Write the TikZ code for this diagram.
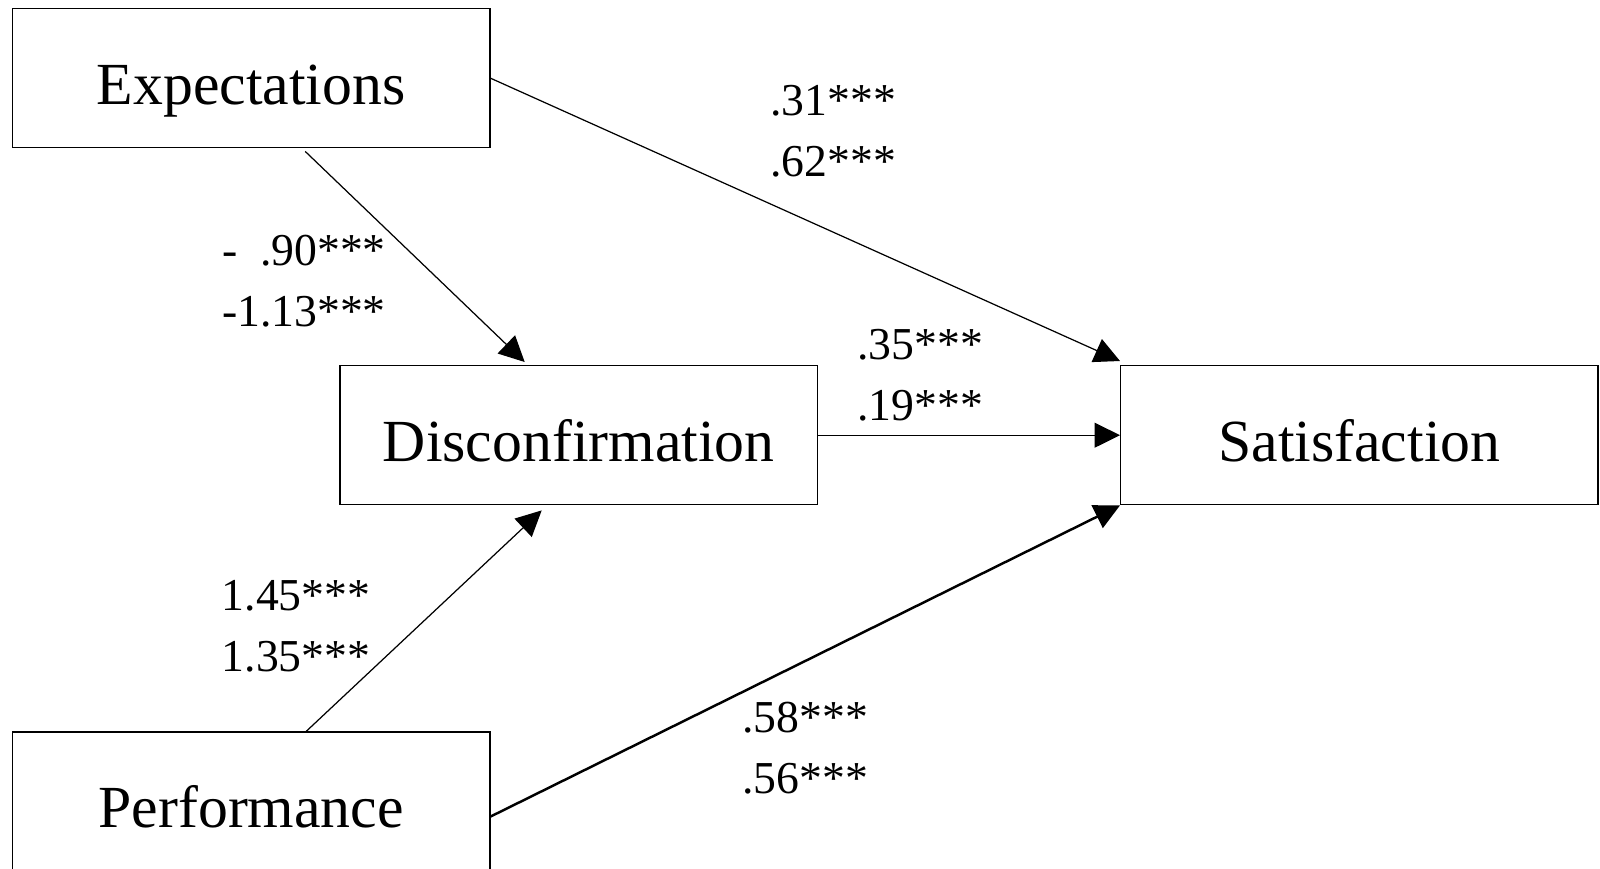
\documentclass[tikz,border=0pt]{standalone}
\usepackage{fontspec}
\setmainfont{Liberation Serif}
\usetikzlibrary{arrows.meta,calc}

\begin{document}
\begin{tikzpicture}[x=0.02cm, y=-0.02cm,
  construct/.style={rectangle, draw, line width=0.8pt, minimum width=9.55cm, minimum height=2.78cm, text height=1.04cm, text depth=0pt, font=\fontsize{34}{40}\selectfont},
  coef/.style={font=\fontsize{26}{34.7}\selectfont, align=left, anchor=west, inner sep=0pt},
  link/.style={-{Triangle[length=0.51cm, width=0.5cm]}, line width=0.7pt}
]
  \useasboundingbox (0,0) rectangle (1600,869);
  % constructs
  \node[construct] (exp) at (251.25,78.25) {Expectations};
  \node[construct] (disc) at (578.7,435.2) {Disconfirmation};
  \node[construct] (sat) at (1359.4,435.2) {Satisfaction};
  \node[construct] (perf) at (251.25,801.5) {Performance};
  % paths
  \draw[link] (exp.east) -- ($(sat.north west)+(0,-4)$);
  \draw[link] ($(exp.south)+(54,3)$) -- ($(disc.north)+(-54,-3)$);
  \draw[link] ($(perf.north)+(55,0)$) -- ($(disc.south)+(-37,5)$);
  \draw[link] (disc.east) -- (sat.west);
  \draw[link, line width=1.4pt] ($(perf.east)+(0,15)$) -- (sat.south west);
  % coefficients
  \node[coef] (c1) at (770,130.8) {.31***\\.62***};
  \node[coef] (c2) at (221.7,281) {-\phantom{1}.90***\\-1.13***};
  \node[coef] (c3) at (857,375.5) {.35***\\.19***};
  \node[coef] (c4) at (221.4,626) {1.45***\\1.35***};
  \node[coef] (c5) at (742,748.5) {.58***\\.56***};
\end{tikzpicture}
\end{document}
